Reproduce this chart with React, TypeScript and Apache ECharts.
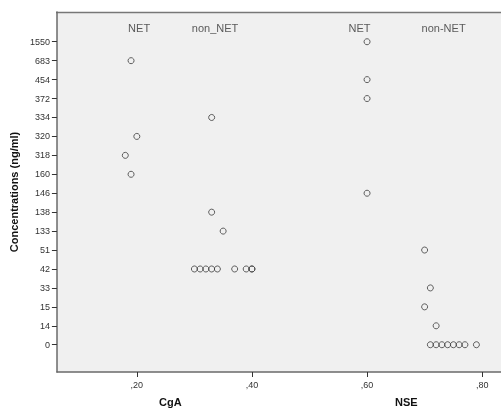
import React, { useEffect, useRef } from "react";
import * as echarts from "echarts";

const yLabels = ["0", "14", "15", "33", "42", "51", "133", "138", "146", "160", "318", "320", "334", "372", "454", "683", "1550"];
const xTicks = [0.2, 0.4, 0.6, 0.8];

const cgaNetX = [0.19, 0.2, 0.18, 0.19];
const cgaNetY = ["683", "320", "318", "160"];

const cgaNonNetX = [0.33, 0.33, 0.35, 0.3, 0.31, 0.32, 0.33, 0.34, 0.37, 0.39, 0.4, 0.4];
const cgaNonNetY = ["334", "138", "133", "42", "42", "42", "42", "42", "42", "42", "42", "42"];

const nseNetX = [0.6, 0.6, 0.6, 0.6];
const nseNetY = ["1550", "454", "372", "146"];

const nseNonNetX = [0.7, 0.71, 0.7, 0.72, 0.71, 0.72, 0.73, 0.74, 0.75, 0.76, 0.77, 0.79];
const nseNonNetY = ["51", "33", "15", "14", "0", "0", "0", "0", "0", "0", "0", "0"];

const groupNames = ["NET", "non_NET", "NET", "non-NET"];
const groupX = [0.204, 0.336, 0.587, 0.733];
const groupYLevel = 16.72;

const FONT = "Liberation Sans, Arial, sans-serif";

function pts(xs: number[], ys: string[]) {
  return xs.map((x, i) => [x, yLabels.indexOf(ys[i])]);
}

export default function App() {
  const ref = useRef<HTMLDivElement>(null);
  useEffect(() => {
    const chart = echarts.init(ref.current!, null, { renderer: "svg" });
    const scatterBase = {
      type: "scatter",
      symbol: "circle",
      symbolSize: 6,
      itemStyle: { color: "rgba(0,0,0,0)", borderColor: "#3a3a3a", borderWidth: 1 },
      emphasis: { disabled: true },
    };
    chart.setOption({
      animation: false,
      textStyle: { fontFamily: FONT },
      grid: {
        left: 56,
        top: 12,
        right: -3,
        bottom: 38,
        show: true,
        backgroundColor: "#f0f0f0",
        borderWidth: 0,
        borderColor: "rgba(0,0,0,0)",
      },
      xAxis: {
        type: "value",
        min: 0.0612,
        max: 0.8327,
        splitLine: { show: false },
        axisLine: { show: true, onZero: false, lineStyle: { color: "#6a6a6a", width: 1.5 } },
        axisTick: { show: true, length: 5, inside: false, customValues: xTicks, lineStyle: { color: "#333333" } },
        axisLabel: {
          customValues: xTicks,
          margin: 8,
          fontSize: 9,
          color: "#333333",
          fontFamily: FONT,
          formatter: (v: number) => "," + Math.round(v * 100).toString().padStart(2, "0"),
        },
      },
      yAxis: {
        type: "value",
        min: -1.44,
        max: 17.57,
        splitLine: { show: false },
        axisLine: { show: true, onZero: false, lineStyle: { color: "#6a6a6a", width: 1.5 } },
        axisTick: { show: true, length: 5, inside: false, customValues: yLabels.map((_, i) => i), lineStyle: { color: "#333333" } },
        axisLabel: {
          customValues: yLabels.map((_, i) => i),
          margin: 7,
          fontSize: 9,
          color: "#333333",
          fontFamily: FONT,
          formatter: (v: number) => yLabels[Math.round(v)] ?? "",
        },
        name: "Concentrations (ng/ml)",
        nameLocation: "middle",
        nameGap: 33,
        nameTextStyle: { fontSize: 11, fontWeight: "bold", color: "#111111", fontFamily: FONT },
      },
      graphic: [
        { type: "line", shape: { x1: 56, y1: 12.5, x2: 501, y2: 12.5 }, style: { stroke: "#777777", lineWidth: 1.5 } },
        { type: "text", left: 159, top: 396, style: { text: "CgA", font: "bold 11px " + FONT, fill: "#111111" } },
        { type: "text", left: 395, top: 396, style: { text: "NSE", font: "bold 11px " + FONT, fill: "#111111" } },
      ],
      series: [
        { ...scatterBase, data: pts(cgaNetX, cgaNetY) },
        { ...scatterBase, data: pts(cgaNonNetX, cgaNonNetY) },
        { ...scatterBase, data: pts(nseNetX, nseNetY) },
        { ...scatterBase, data: pts(nseNonNetX, nseNonNetY) },
        {
          type: "scatter",
          symbolSize: 0,
          silent: true,
          data: groupX.map((x, i) => ({ value: [x, groupYLevel], name: groupNames[i] })),
          label: {
            show: true,
            position: "inside",
            formatter: (p: any) => p.name,
            fontSize: 11,
            color: "#333333",
            fontFamily: FONT,
          },
        },
      ],
    });
    return () => chart.dispose();
  }, []);
  return <div ref={ref} style={{ position: "fixed", left: 0, top: 0, width: 501, height: 410 }} />;
}
